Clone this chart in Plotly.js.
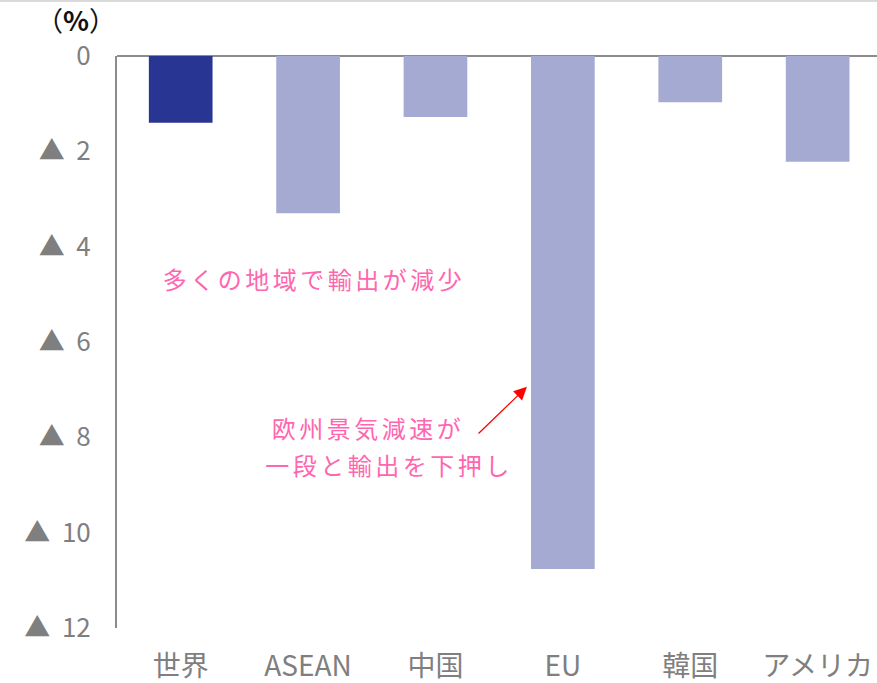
<!DOCTYPE html>
<html><head><meta charset="utf-8">
<script src="https://cdn.plot.ly/plotly-3.0.1.min.js"></script>
<style>html,body{margin:0;padding:0;background:#fff}</style>
</head><body>
<div id="chart" style="width:877px;height:683px"></div>
<script>
const categories = ['世界', 'ASEAN', '中国', 'EU', '韓国', 'アメリカ'];
const values = [-1.40, -3.30, -1.28, -10.76, -0.97, -2.22];
const barColors = ['#283593', '#A4AAD1', '#A4AAD1', '#A4AAD1', '#A4AAD1', '#A4AAD1'];
const yTickVals = [0, -2, -4, -6, -8, -10, -12];
const yTickText = ['0', '▲\u00a0\u00a02', '▲\u00a0\u00a04', '▲\u00a0\u00a06', '▲\u00a0\u00a08', '▲\u00a0\u00a010', '▲\u00a0\u00a012'];
const unitLabel = '（<b>%</b>）';
const note1 = '多くの地域で輸出が減少';
const note2a = '欧州景気減速が';
const note2b = '一段と輸出を下押し';

const F = '"Noto Sans CJK JP", "Noto Sans", sans-serif';
const pink = '#FF66B0';

const trace = {
  type: 'bar', x: categories, y: values,
  marker: {color: barColors},
  hoverinfo: 'skip'
};

const layout = {
  width: 877, height: 683,
  margin: {l: 117, r: 0, t: 56, b: 55, pad: 0},
  paper_bgcolor: '#fff', plot_bgcolor: '#fff',
  showlegend: false,
  bargap: 0.5,
  xaxis: {
    range: [-0.5, 5.466], showgrid: false, showline: false, zeroline: false,
    ticks: '', tickfont: {family: F, size: 28, color: '#7f7f7f'}, ticklabelstandoff: 19
  },
  yaxis: {
    range: [-12, 0], tickvals: yTickVals, ticktext: yTickText,
    showgrid: false, zeroline: true, zerolinecolor: '#8c8c8c', zerolinewidth: 2,
    showline: true, linecolor: '#8c8c8c', linewidth: 2, ticks: '',
    tickfont: {family: F, size: 26, color: '#7f7f7f'}, ticklabelstandoff: 19
  },
  shapes: [
    {type: 'line', xref: 'paper', yref: 'paper', x0: -0.2, x1: 1, y0: 1 + 55/572, y1: 1 + 55/572,
     line: {color: '#d9d9d9', width: 2}}
  ],
  annotations: [
    {xref: 'paper', yref: 'paper', x: (76 - 117)/760, y: 1 + 37/572, text: unitLabel,
     showarrow: false, xanchor: 'center', yanchor: 'middle',
     font: {family: F, size: 27, color: '#111'}},
    {xref: 'x', yref: 'y', x: 1.05, y: -4.66, text: note1, showarrow: false,
     xanchor: 'center', yanchor: 'middle', font: {family: F, size: 24, color: pink}},
    {xref: 'x', yref: 'y', x: 1.47, y: -7.80, text: note2a, showarrow: false,
     xanchor: 'center', yanchor: 'middle', font: {family: F, size: 24, color: pink}},
    {xref: 'x', yref: 'y', x: 1.635, y: -8.58, text: note2b, showarrow: false,
     xanchor: 'center', yanchor: 'middle', font: {family: F, size: 24, color: pink}},
    {xref: 'x', yref: 'y', axref: 'x', ayref: 'y', x: 2.718, y: -6.94, ax: 2.326, ay: -7.95,
     text: '', showarrow: true, arrowhead: 2, arrowsize: 2, arrowwidth: 1.3, arrowcolor: '#FF0000'}
  ]
};

Plotly.newPlot('chart', [trace], layout, {displayModeBar: false, staticPlot: true}).then(function(gd){
  // widen character spacing of the pink notes to match the reference
  const texts = gd.querySelectorAll('.annotation .annotation-text');
  texts.forEach(function(t, i){
    if (i >= 1 && i <= 3) t.style.letterSpacing = '3.5px';
  });
});
</script>
</body></html>
